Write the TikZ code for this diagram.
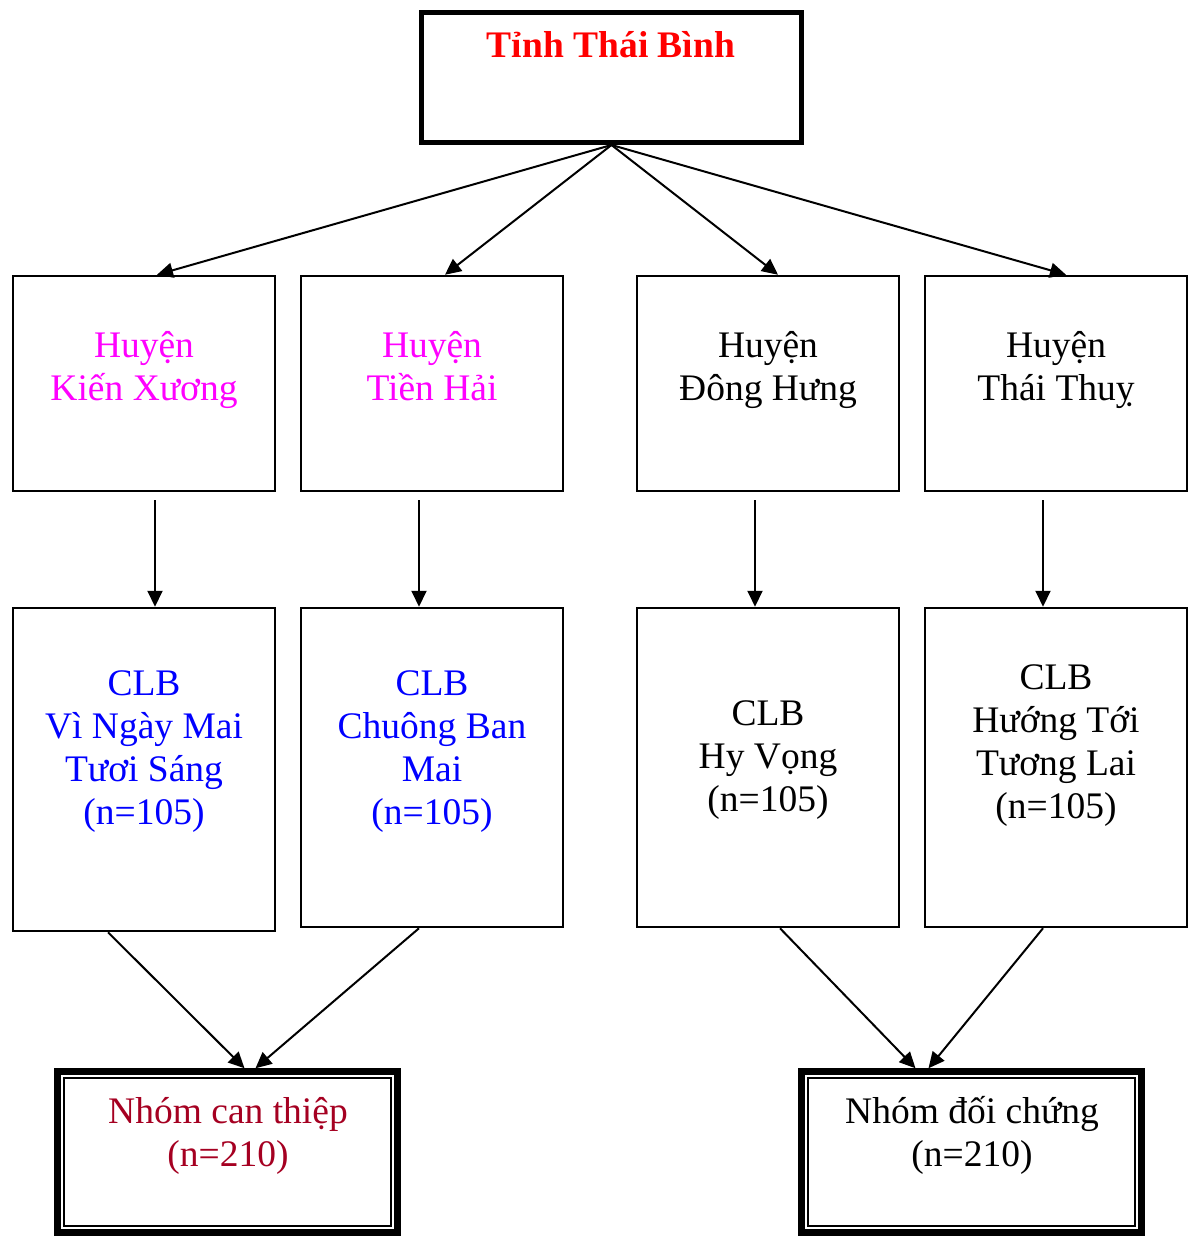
\documentclass[tikz,border=0pt]{standalone}
\usepackage{fontspec}
\setmainfont{Liberation Serif}
\usetikzlibrary{arrows.meta}
\definecolor{mag}{RGB}{255,0,255}
\definecolor{blu}{RGB}{0,0,255}
\definecolor{dred}{RGB}{165,0,33}
\begin{document}
\begin{tikzpicture}[x=1pt,y=-1pt,
  box/.style={draw,line width=2.5pt,inner sep=0pt,minimum width=262pt},
  dbox/.style={draw,line width=6.5pt,inner sep=0pt,minimum width=340pt,minimum height=161pt},
  arr/.style={line width=2pt,-{Triangle[width=15pt,length=16pt]}},
  txt/.style={anchor=base,inner sep=0pt,font=\fontsize{37.5}{43}\selectfont}]
\useasboundingbox (0,0) rectangle (1191,1236);

% boxes
\node[box,line width=5pt,minimum width=380pt,minimum height=130pt] (top) at (611.5,77.5) {};
\node[box,minimum height=215pt] (k1) at (144,383.5) {};
\node[box,minimum height=215pt] (k2) at (432,383.5) {};
\node[box,minimum height=215pt] (k3) at (768,383.5) {};
\node[box,minimum height=215pt] (k4) at (1056,383.5) {};
\node[box,minimum height=323pt] (c1) at (144,769.5) {};
\node[box,minimum height=319pt] (c2) at (432,767.5) {};
\node[box,minimum height=319pt] (c3) at (768,767.5) {};
\node[box,minimum height=319pt] (c4) at (1056,767.5) {};
\node[dbox] (b1) at (227.5,1152) {};
\node[dbox] (b2) at (971.5,1152) {};
\draw[line width=2pt] ([xshift=10pt,yshift=-10pt]b1.north west) rectangle ([xshift=-10pt,yshift=10pt]b1.south east);
\draw[line width=2pt] ([xshift=10pt,yshift=-10pt]b2.north west) rectangle ([xshift=-10pt,yshift=10pt]b2.south east);

% texts
\node[txt,font=\fontsize{37.5}{43}\selectfont\bfseries,text=red] (title) at (611,58) {Tỉnh Thái Bình};

\node[txt,text=mag] (k1a) at (144,357) {Huyện};
\node[txt,text=mag] (k1b) at (144,400) {Kiến Xương};
\node[txt,text=mag] (k2a) at (432,357) {Huyện};
\node[txt,text=mag] (k2b) at (432,400) {Tiền Hải};
\node[txt] (k3a) at (768,357) {Huyện};
\node[txt] (k3b) at (768,400) {Đông Hưng};
\node[txt] (k4a) at (1056,357) {Huyện};
\node[txt] (k4b) at (1056,400) {Thái Thuỵ};

\node[txt,text=blu] (c1a) at (144,695) {CLB};
\node[txt,text=blu] (c1b) at (144,738) {Vì Ngày Mai};
\node[txt,text=blu] (c1c) at (144,781) {Tươi Sáng};
\node[txt,text=blu] (c1d) at (144,824) {(n=105)};
\node[txt,text=blu] (c2a) at (432,695) {CLB};
\node[txt,text=blu] (c2b) at (432,738) {Chuông Ban};
\node[txt,text=blu] (c2c) at (432,781) {Mai};
\node[txt,text=blu] (c2d) at (432,824) {(n=105)};
\node[txt] (c3a) at (768,725) {CLB};
\node[txt] (c3b) at (768,768) {Hy Vọng};
\node[txt] (c3c) at (768,811) {(n=105)};
\node[txt] (c4a) at (1056,689) {CLB};
\node[txt] (c4b) at (1056,732) {Hướng Tới};
\node[txt] (c4c) at (1056,775) {Tương Lai};
\node[txt] (c4d) at (1056,818) {(n=105)};

\node[txt,text=dred] (b1a) at (228,1123) {Nhóm can thiệp};
\node[txt,text=dred] (b1b) at (228,1166) {(n=210)};
\node[txt] (b2a) at (972,1123) {Nhóm đối chứng};
\node[txt] (b2b) at (972,1166) {(n=210)};

% arrows
\draw[arr] (top.south) -- ([xshift=13pt]k1.north);
\draw[arr] (top.south) -- ([xshift=13pt]k2.north);
\draw[arr] (top.south) -- ([xshift=10pt]k3.north);
\draw[arr] (top.south) -- ([xshift=10pt]k4.north);

\draw[arr] ([xshift=11pt,yshift=-8pt]k1.south) -- ([xshift=11pt]c1.north);
\draw[arr] ([xshift=-13pt,yshift=-8pt]k2.south) -- ([xshift=-13pt]c2.north);
\draw[arr] ([xshift=-13pt,yshift=-8pt]k3.south) -- ([xshift=-13pt]c3.north);
\draw[arr] ([xshift=-13pt,yshift=-8pt]k4.south) -- ([xshift=-13pt]c4.north);

\draw[arr] ([xshift=-36pt]c1.south) -- ([xshift=17pt]b1.north);
\draw[arr] ([xshift=-13pt]c2.south) -- ([xshift=28pt]b1.north);
\draw[arr] ([xshift=12pt]c3.south) -- ([xshift=-56pt]b2.north);
\draw[arr] ([xshift=-13pt]c4.south) -- ([xshift=-43pt]b2.north);
\end{tikzpicture}
\end{document}
